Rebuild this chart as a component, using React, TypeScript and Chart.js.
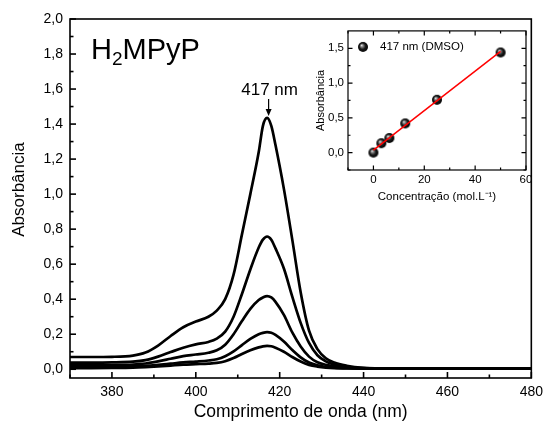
import React, { useEffect, useRef } from 'react';
import { Chart, registerables } from 'chart.js';
Chart.register(...registerables);

const FONT = '"Liberation Sans", Arial, Helvetica, sans-serif';

// ---------- main spectra data ----------
const wavelengths = [370, 375, 380, 385, 388, 391, 394, 397, 400, 403, 405, 407, 409, 411, 413, 415, 416, 417, 418, 419, 421, 423, 425, 427, 429, 431, 433, 436, 440, 445, 450, 460, 470, 480];
const absA = [0.070, 0.070, 0.071, 0.078, 0.095, 0.135, 0.190, 0.240, 0.272, 0.300, 0.335, 0.400, 0.540, 0.770, 1.000, 1.240, 1.390, 1.435, 1.390, 1.280, 1.030, 0.740, 0.440, 0.220, 0.115, 0.063, 0.038, 0.020, 0.008, 0.004, 0.003, 0.003, 0.003, 0.004];
const absB = [0.038, 0.038, 0.039, 0.043, 0.052, 0.072, 0.098, 0.123, 0.142, 0.156, 0.175, 0.215, 0.300, 0.430, 0.570, 0.695, 0.740, 0.758, 0.740, 0.690, 0.575, 0.415, 0.265, 0.150, 0.080, 0.045, 0.027, 0.013, 0.006, 0.004, 0.003, 0.003, 0.003, 0.004];
const absC = [0.023, 0.023, 0.024, 0.027, 0.033, 0.045, 0.060, 0.075, 0.084, 0.094, 0.108, 0.140, 0.200, 0.275, 0.345, 0.395, 0.410, 0.418, 0.410, 0.385, 0.310, 0.210, 0.130, 0.072, 0.040, 0.025, 0.016, 0.010, 0.005, 0.003, 0.003, 0.003, 0.003, 0.004];
const absD = [0.013, 0.013, 0.014, 0.016, 0.019, 0.025, 0.032, 0.039, 0.044, 0.050, 0.057, 0.074, 0.102, 0.138, 0.173, 0.200, 0.208, 0.212, 0.208, 0.196, 0.158, 0.110, 0.068, 0.038, 0.022, 0.013, 0.009, 0.006, 0.004, 0.003, 0.003, 0.003, 0.003, 0.004];
const absE = [0.006, 0.006, 0.007, 0.009, 0.012, 0.016, 0.021, 0.026, 0.029, 0.032, 0.036, 0.046, 0.064, 0.087, 0.108, 0.125, 0.131, 0.133, 0.131, 0.123, 0.100, 0.070, 0.044, 0.025, 0.015, 0.009, 0.006, 0.005, 0.004, 0.003, 0.003, 0.003, 0.003, 0.004];
const spectra = [absA, absB, absC, absD, absE];

const mainXTicks = [380, 400, 420, 440, 460, 480];
const mainXMinor = [370, 390, 410, 430, 450, 470];
const mainYTicks = [0, 0.2, 0.4, 0.6, 0.8, 1.0, 1.2, 1.4, 1.6, 1.8, 2.0];
const mainYMinor = [0.1, 0.3, 0.5, 0.7, 0.9, 1.1, 1.3, 1.5, 1.7, 1.9];
const mainXTitle = 'Comprimento de onda (nm)';
const mainYTitle = 'Absorbância';
const peakWavelength = 417;
const peakAbs = 1.435;
const peakLabel = '417 nm';
const compoundParts = ['H', '2', 'MPyP'];

// ---------- inset calibration data ----------
const concentrations = [0, 3.125, 6.25, 12.5, 25, 50];
const abs417 = [0.0, 0.135, 0.21, 0.42, 0.76, 1.44];
const fitX = [0, 50];
const fitY = [0.036, 1.455];
const insetXTicks = [0, 20, 40, 60];
const insetXMinor = [-10, 10, 30, 50];
const insetYTicks = [0, 0.5, 1.0, 1.5];
const insetYMinor = [-0.25, 0.25, 0.75, 1.25];
const insetXTitle = 'Concentração (mol.L⁻¹)';
const insetYTitle = 'Absorbância';
const insetLegend = '417 nm (DMSO)';

const comma = (v: number) => Number(v).toFixed(1).replace('.', ',');

function makeBall(r: number) {
  const c = document.createElement('canvas');
  const s = 2 * r + 2;
  c.width = s;
  c.height = s;
  const ctx = c.getContext('2d')!;
  const cx = s / 2, cy = s / 2;
  const g = ctx.createRadialGradient(cx - r * 0.3, cy - r * 0.35, 0, cx, cy, r);
  g.addColorStop(0, '#f4f4f4');
  g.addColorStop(0.25, '#8a8a8a');
  g.addColorStop(0.6, '#1a1a1a');
  g.addColorStop(1, '#000');
  ctx.fillStyle = g;
  ctx.beginPath();
  ctx.arc(cx, cy, r, 0, Math.PI * 2);
  ctx.fill();
  return c;
}

function decorPlugin(o: { xMajor: number[]; xMinor: number[]; yMajor: number[]; yMinor: number[]; major: number; minor: number; lw: number; allSides: boolean }) {
  return {
    id: 'decor',
    afterDraw(chart: any) {
      const { ctx, chartArea: a, scales } = chart;
      const xs = scales.x, ys = scales.y;
      ctx.save();
      ctx.strokeStyle = '#000';
      ctx.lineWidth = o.lw;
      ctx.strokeRect(a.left, a.top, a.right - a.left, a.bottom - a.top);
      const tickX = (vals: number[], len: number) => {
        vals.forEach((v) => {
          const p = xs.getPixelForValue(v);
          ctx.beginPath();
          ctx.moveTo(p, a.bottom);
          ctx.lineTo(p, a.bottom - len);
          if (o.allSides) {
            ctx.moveTo(p, a.top);
            ctx.lineTo(p, a.top + len);
          }
          ctx.stroke();
        });
      };
      const tickY = (vals: number[], len: number) => {
        vals.forEach((v) => {
          const p = ys.getPixelForValue(v);
          ctx.beginPath();
          ctx.moveTo(a.left, p);
          ctx.lineTo(a.left + len, p);
          if (o.allSides) {
            ctx.moveTo(a.right, p);
            ctx.lineTo(a.right - len, p);
          }
          ctx.stroke();
        });
      };
      tickX(o.xMajor, o.major);
      tickX(o.xMinor, o.minor);
      tickY(o.yMajor, o.major);
      tickY(o.yMinor, o.minor);
      ctx.restore();
    },
  };
}

export default function App() {
  const mainRef = useRef<HTMLCanvasElement>(null);
  const insetRef = useRef<HTMLCanvasElement>(null);

  useEffect(() => {
    const ball = makeBall(5);

    const annotate = {
      id: 'annot',
      afterDraw(chart: any) {
        const { ctx, chartArea: a, scales } = chart;
        ctx.save();
        ctx.fillStyle = '#000';
        ctx.strokeStyle = '#000';
        // y-axis title
        ctx.save();
        ctx.translate(19, (a.top + a.bottom) / 2 - 9);
        ctx.rotate(-Math.PI / 2);
        ctx.font = `17px ${FONT}`;
        ctx.textAlign = 'center';
        ctx.textBaseline = 'middle';
        ctx.fillText(mainYTitle, 0, 0);
        ctx.restore();
        // compound name with subscript
        let x = a.left + 21;
        const base = a.top + 40;
        ctx.textBaseline = 'alphabetic';
        ctx.textAlign = 'left';
        ctx.font = `29px ${FONT}`;
        ctx.fillText(compoundParts[0], x, base);
        x += ctx.measureText(compoundParts[0]).width;
        ctx.font = `19px ${FONT}`;
        ctx.fillText(compoundParts[1], x, base + 6);
        x += ctx.measureText(compoundParts[1]).width;
        ctx.font = `29px ${FONT}`;
        ctx.fillText(compoundParts[2], x, base);
        // peak label with arrow
        const px = scales.x.getPixelForValue(peakWavelength) + 1.5;
        const tip = scales.y.getPixelForValue(peakAbs) - 2;
        ctx.lineWidth = 1.2;
        ctx.beginPath();
        ctx.moveTo(px, tip - 17);
        ctx.lineTo(px, tip - 4);
        ctx.stroke();
        ctx.beginPath();
        ctx.moveTo(px, tip);
        ctx.lineTo(px - 3, tip - 7);
        ctx.lineTo(px + 3, tip - 7);
        ctx.closePath();
        ctx.fill();
        ctx.font = `17px ${FONT}`;
        ctx.textAlign = 'center';
        ctx.fillText(peakLabel, px + 1, tip - 21);
        ctx.restore();
      },
    };

    const main = new Chart(mainRef.current!, {
      type: 'line',
      data: {
        datasets: spectra.map((arr) => ({
          data: wavelengths.map((w, i) => ({ x: w, y: arr[i] })),
          borderColor: '#000',
          borderWidth: 2.7,
          pointRadius: 0,
          cubicInterpolationMode: 'monotone' as const,
          fill: false,
        })),
      },
      options: {
        responsive: false,
        animation: false,
        devicePixelRatio: 1,
        layout: { padding: { top: 19, right: 12, left: 0, bottom: 0 } },
        plugins: { legend: { display: false }, tooltip: { enabled: false } },
        scales: {
          x: {
            type: 'linear',
            min: 370,
            max: 480,
            afterBuildTicks: (s: any) => { s.ticks = mainXTicks.map((v) => ({ value: v })); },
            afterFit: (s: any) => { s.height = 50; },
            grid: { display: false, drawTicks: false },
            border: { display: false },
            ticks: { font: { size: 14, family: FONT }, color: '#000', padding: 6, maxRotation: 0, autoSkip: false, callback: (v: any) => String(v) },
            title: { display: true, text: mainXTitle, font: { size: 17.5, family: FONT }, color: '#000', padding: { top: 0, bottom: 5 } },
          },
          y: {
            type: 'linear',
            min: -0.05,
            max: 2.0,
            afterBuildTicks: (s: any) => { s.ticks = mainYTicks.map((v) => ({ value: v })); },
            afterFit: (s: any) => { s.width = 70; },
            grid: { display: false, drawTicks: false },
            border: { display: false },
            ticks: { font: { size: 14, family: FONT }, color: '#000', padding: 7, autoSkip: false, callback: (v: any) => comma(v) },
            title: { display: false },
          },
        },
      },
      plugins: [decorPlugin({ xMajor: mainXTicks, xMinor: mainXMinor, yMajor: mainYTicks, yMinor: mainYMinor, major: 6, minor: 3.5, lw: 1.6, allSides: false }), annotate],
    } as any);

    const insetLegendPlugin = {
      id: 'insetLegend',
      afterDraw(chart: any) {
        const { ctx, chartArea: a } = chart;
        ctx.save();
        const cx = a.left + 15, cy = a.top + 16;
        ctx.drawImage(ball, cx - ball.width / 2, cy - ball.height / 2);
        ctx.fillStyle = '#000';
        ctx.font = `11.5px ${FONT}`;
        ctx.textBaseline = 'middle';
        ctx.textAlign = 'left';
        ctx.fillText(insetLegend, a.left + 32, cy);
        ctx.restore();
      },
    };

    const inset = new Chart(insetRef.current!, {
      type: 'scatter',
      data: {
        datasets: [
          {
            data: fitX.map((x, i) => ({ x, y: fitY[i] })),
            showLine: true,
            borderColor: '#ff0000',
            borderWidth: 1.5,
            pointRadius: 0,
            order: 0,
          },
          {
            data: concentrations.map((x, i) => ({ x, y: abs417[i] })),
            pointStyle: ball,
            pointRadius: 5,
            showLine: false,
            order: 1,
          },
        ],
      },
      options: {
        responsive: false,
        animation: false,
        devicePixelRatio: 1,
        layout: { padding: { top: 6, right: 14, left: 0, bottom: 0 } },
        plugins: { legend: { display: false }, tooltip: { enabled: false } },
        scales: {
          x: {
            type: 'linear',
            min: -10,
            max: 60,
            afterBuildTicks: (s: any) => { s.ticks = insetXTicks.map((v) => ({ value: v })); },
            afterFit: (s: any) => { s.height = 40; },
            grid: { display: false, drawTicks: false },
            border: { display: false },
            ticks: { font: { size: 11.5, family: FONT }, color: '#000', padding: 3, maxRotation: 0, autoSkip: false, callback: (v: any) => String(v) },
            title: { display: true, text: insetXTitle, font: { size: 11.5, family: FONT }, color: '#000', padding: { top: 0, bottom: 6 } },
          },
          y: {
            type: 'linear',
            min: -0.25,
            max: 1.75,
            afterBuildTicks: (s: any) => { s.ticks = insetYTicks.map((v) => ({ value: v })); },
            afterFit: (s: any) => { s.width = 48; },
            grid: { display: false, drawTicks: false },
            border: { display: false },
            ticks: { font: { size: 11.5, family: FONT }, color: '#000', padding: 4, autoSkip: false, callback: (v: any) => comma(v) },
            title: { display: true, text: insetYTitle, font: { size: 11, family: FONT }, color: '#000', padding: { top: 14, bottom: 0 } },
          },
        },
      },
      plugins: [decorPlugin({ xMajor: insetXTicks, xMinor: insetXMinor, yMajor: insetYTicks, yMinor: insetYMinor, major: 4.5, minor: 2.5, lw: 1.2, allSides: true }), insetLegendPlugin],
    } as any);

    return () => {
      main.destroy();
      inset.destroy();
    };
  }, []);

  return (
    <div style={{ position: 'absolute', left: 0, top: 0, width: 549, height: 428, background: '#fff' }}>
      <canvas ref={mainRef} width={549} height={428} style={{ position: 'absolute', left: 0, top: 0 }} />
      <canvas ref={insetRef} width={240} height={190} style={{ position: 'absolute', left: 300, top: 20 }} />
    </div>
  );
}
